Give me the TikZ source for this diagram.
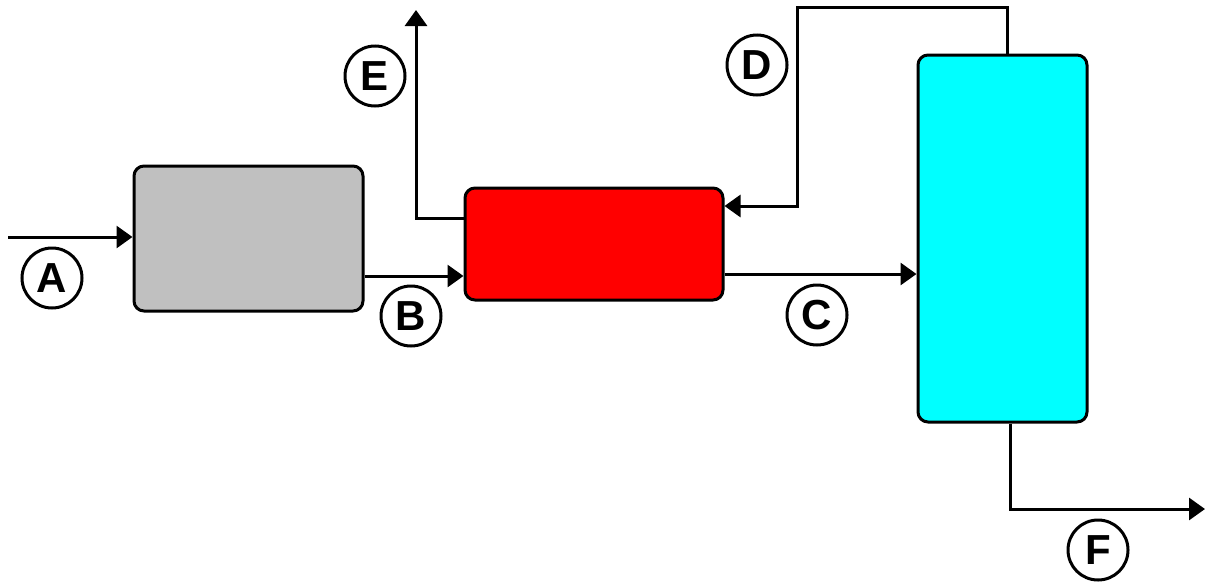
\documentclass[tikz,border=0pt]{standalone}
\usepackage{fontspec}
\setmainfont{Liberation Sans}
\usetikzlibrary{arrows.meta}
\definecolor{boxgray}{HTML}{C0C0C0}
\definecolor{boxred}{HTML}{FF0000}
\definecolor{boxcyan}{HTML}{00FFFF}
\tikzset{
  unitbox/.style={draw=black, line width=3pt, rounded corners=10pt, inner sep=0pt},
  flow/.style={draw=black, line width=3pt, -{Triangle[length=16pt,width=22pt]}},
  pipe/.style={draw=black, line width=3pt},
  tag/.style={circle, draw=black, line width=3pt, minimum size=60pt, inner sep=0pt,
    font=\fontsize{42}{42}\selectfont\bfseries}
}
\begin{document}
\begin{tikzpicture}[x=1pt,y=-1pt]
\useasboundingbox (0,0) rectangle (1209,581);
% units
\node[unitbox, fill=boxgray, minimum width=229pt, minimum height=145pt] (g) at (248.5,238.5) {};
\node[unitbox, fill=boxred, minimum width=258pt, minimum height=112pt] (r) at (594,244) {};
\node[unitbox, fill=boxcyan, minimum width=169pt, minimum height=367pt] (c) at (1002.5,238.5) {};
% helper coordinates
\coordinate (a0) at (8,237);
\coordinate (yb) at (0,276);
\coordinate (ye) at (0,218);
\coordinate (etop) at (416,10);
\coordinate (dtop) at (1007,7);
\coordinate (dleft) at (797,7);
\coordinate (yd) at (0,206);
\coordinate (yc) at (0,274);
\coordinate (fx) at (1010,0);
\coordinate (fend) at (1205,509);
% connectors
\draw[flow] (a0) -- (a0 -| g.west);
\draw[flow] (g.east |- yb) -- (r.west |- yb);
\draw[flow] (r.west |- ye) -| (etop);
\draw[flow] (c.north -| dtop) -- (dtop) -- (dleft) |- (r.east |- yd);
\draw[flow] (r.east |- yc) -- (c.west |- yc);
\draw[flow] (c.south -| fx) |- (fend);
% labels
\node[tag] (la) at (52,278) {A};
\node[tag] (lb) at (411,316) {B};
\node[tag] (lc) at (817,315) {C};
\node[tag] (ld) at (757,65) {D};
\node[tag] (le) at (375,76) {E};
\node[tag] (lf) at (1098,550) {F};
\end{tikzpicture}
\end{document}
